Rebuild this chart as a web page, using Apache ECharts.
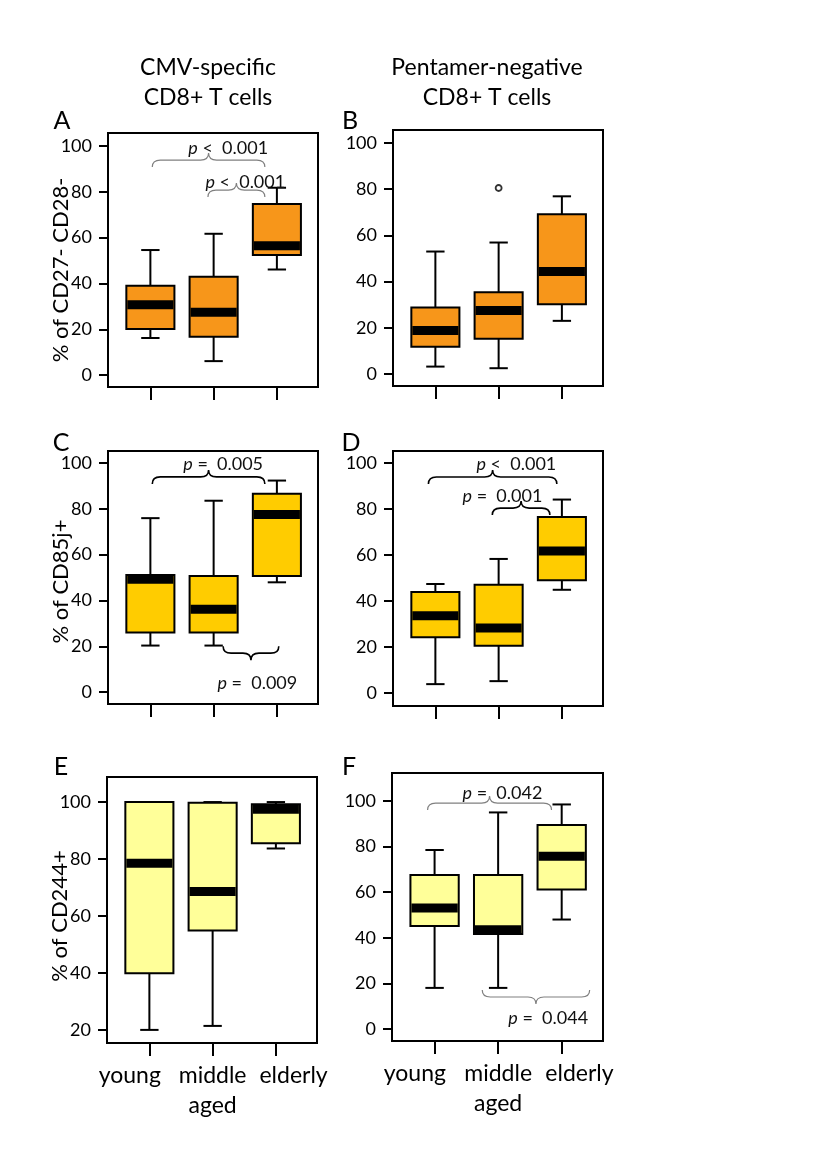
<!DOCTYPE html>
<html>
<head>
<meta charset="utf-8">
<script src="https://cdn.jsdelivr.net/npm/echarts@6/dist/echarts.min.js"></script>
<style>
html, body { margin: 0; padding: 0; background: #fff; }
#chart { width: 819px; height: 1168px; }
</style>
</head>
<body>
<div id="chart"></div>
<script>
const groups = ['young', 'middle\naged', 'elderly'];
const ticks100 = [0, 20, 40, 60, 80, 100];
const ticks20 = [20, 40, 60, 80, 100];

// [min, Q1, median, Q3, max] for young, middle aged, elderly
const boxA = [[16.2, 20.1, 30.7, 39.0, 54.6], [6.1, 16.7, 27.4, 42.9, 61.7], [46.1, 52.4, 56.5, 74.7, 81.8]];
const boxB = [[3.2, 11.8, 18.8, 28.8, 53.0], [2.5, 15.3, 27.5, 35.4, 56.9], [23.0, 30.2, 44.4, 69.1, 76.9]];
const boxC = [[20.3, 26.0, 49.2, 51.1, 75.9], [20.3, 26.0, 36.2, 50.7, 83.5], [47.9, 50.7, 77.5, 86.6, 92.3]];
const boxD = [[3.9, 24.3, 33.6, 43.9, 47.4], [5.2, 20.6, 28.3, 47.1, 58.3], [44.9, 49.0, 61.7, 76.5, 84.1]];
const boxE = [[20.0, 39.9, 78.5, 100, 100], [21.4, 54.9, 68.6, 99.8, 100], [83.7, 85.5, 97.5, 99.2, 100]];
const boxF = [[18.0, 45.2, 53.1, 67.5, 78.5], [18.0, 41.6, 43.5, 67.5, 95.0], [48.0, 61.2, 75.8, 89.5, 98.5]];
const outlierB = [[1, 80.5]];

// braces: from x, to x, y, tip (1 up / -1 down), text left x, text y
const bracesA = [[0.03, 1.81, 93.9, 1, 0.60, 99.1], [0.91, 1.81, 80.8, 1, 0.87, 84.3]];
const pTextA = ['<  0.001', '<  0.001'];
const bracesC = [[0.03, 1.81, 93.9, 1, 0.52, 99.6], [1.15, 2.03, 17.0, -1, 1.06, 3.9]];
const pTextC = ['=  0.005', '=  0.009'];
const bracesD = [[-0.11, 1.92, 93.9, 1, 0.65, 99.6], [0.90, 1.81, 80.4, 1, 0.43, 85.7]];
const pTextD = ['<  0.001', '=  0.001'];
const bracesF = [[-0.11, 1.84, 99.1, 1, 0.44, 103.5], [0.75, 2.44, 14.0, -1, 1.16, 4.8]];
const pTextF = ['=  0.042', '=  0.044'];

const FONT = 'Lato, Carlito, sans-serif';
const orange = '#F7961A', gold = '#FFCC00', pale = '#FFFF99';

const panels = [
  { box: boxA, fill: orange, grid: { left: 108, top: 133, width: 210, height: 254 }, y: [-5.2, 105.7], ticks: ticks100, name: '% of CD27- CD28-', pad: 20, braces: bracesA, texts: pTextA, bc: '#808080', bw: 1.2 },
  { box: boxB, fill: orange, grid: { left: 393, top: 130, width: 210, height: 256 }, y: [-5.2, 105.6], ticks: ticks100 },
  { box: boxC, fill: gold, grid: { left: 108, top: 451, width: 210, height: 253 }, y: [-5.2, 105.2], ticks: ticks100, name: '% of CD85j+', pad: 8, braces: bracesC, texts: pTextC, bc: '#000', bw: 1.6 },
  { box: boxD, fill: gold, grid: { left: 393, top: 451, width: 210, height: 255 }, y: [-5.6, 105.2], ticks: ticks100, braces: bracesD, texts: pTextD, bc: '#000', bw: 1.6 },
  { box: boxE, fill: pale, grid: { left: 107, top: 777, width: 210, height: 266 }, y: [15.4, 108.8], ticks: ticks20, name: '% of CD244+', pad: 12, labels: true },
  { box: boxF, fill: pale, grid: { left: 392, top: 773, width: 211, height: 268 }, y: [-5.3, 112.3], ticks: ticks100, braces: bracesF, texts: pTextF, bc: '#808080', bw: 1.2, labels: true }
];

function boxRenderer(fill) {
  return function (params, api) {
    const x = api.value(0);
    const pt = i => api.coord([x, api.value(i)]);
    const lo = pt(1), q1 = pt(2), md = pt(3), q3 = pt(4), hi = pt(5);
    const unit = api.size([1, 0])[0];
    const w = unit * 0.76, cap = unit * 0.29, cx = lo[0];
    const line = (x1, y1, x2, y2) => ({ type: 'line', shape: { x1, y1, x2, y2 }, style: { stroke: '#000', lineWidth: 2 } });
    return {
      type: 'group',
      children: [
        line(cx, hi[1], cx, q3[1]),
        line(cx, q1[1], cx, lo[1]),
        line(cx - cap / 2, hi[1], cx + cap / 2, hi[1]),
        line(cx - cap / 2, lo[1], cx + cap / 2, lo[1]),
        { type: 'rect', shape: { x: cx - w / 2, y: q3[1], width: w, height: q1[1] - q3[1] }, style: { fill: fill, stroke: '#000', lineWidth: 2 } },
        { type: 'rect', shape: { x: cx - w / 2 + 1, y: md[1] - 4.5, width: w - 2, height: 9 }, style: { fill: '#000' } }
      ]
    };
  };
}

function braceRenderer(texts, color, lw) {
  return function (params, api) {
    const a = api.coord([api.value(0), api.value(2)]);
    const b = api.coord([api.value(1), api.value(2)]);
    const t = api.coord([api.value(4), api.value(5)]);
    const d = api.value(3), h = 7, r = 8;
    const y = a[1], x1 = a[0], x2 = b[0], xm = (x1 + x2) / 2;
    const path = 'M' + x1 + ',' + (y + h * d) + ' Q' + x1 + ',' + y + ' ' + (x1 + r) + ',' + y +
      ' L' + (xm - r) + ',' + y + ' Q' + xm + ',' + y + ' ' + xm + ',' + (y - h * d) +
      ' Q' + xm + ',' + y + ' ' + (xm + r) + ',' + y + ' L' + (x2 - r) + ',' + y +
      ' Q' + x2 + ',' + y + ' ' + x2 + ',' + (y + h * d);
    return {
      type: 'group',
      children: [
        { type: 'path', shape: { pathData: path }, style: { fill: 'none', stroke: color, lineWidth: lw } },
        { type: 'text', x: t[0], y: t[1], style: {
          text: '{i|p} ' + texts[params.dataIndex], fill: '#111', fontSize: 18, fontFamily: FONT,
          align: 'left', verticalAlign: 'middle',
          rich: { i: { fontStyle: 'italic', fontSize: 18, fontFamily: FONT, fill: '#111' } }
        } }
      ]
    };
  };
}

const grid = [], xAxis = [], yAxis = [], series = [];
panels.forEach((p, k) => {
  grid.push(Object.assign({ show: true, borderColor: '#000', borderWidth: 2, backgroundColor: 'transparent' }, p.grid));
  xAxis.push({
    type: 'value', gridIndex: k, min: -0.67, max: 2.65,
    axisLine: { show: false, onZero: false }, splitLine: { show: false },
    axisTick: { customValues: [0, 1, 2], length: 13, lineStyle: { color: '#000', width: 2 } },
    axisLabel: {
      show: !!p.labels, customValues: [-0.31, 1, 2.28], margin: 18,
      formatter: v => groups[Math.min(2, Math.max(0, Math.round(v)))],
      color: '#000', fontSize: 23, lineHeight: 30, fontFamily: FONT
    }
  });
  yAxis.push({
    type: 'value', gridIndex: k, min: p.y[0], max: p.y[1],
    axisLine: { show: false, onZero: false }, splitLine: { show: false },
    axisTick: { customValues: p.ticks, length: 9, lineStyle: { color: '#000', width: 2 } },
    axisLabel: { customValues: p.ticks, margin: 16, color: '#000', fontSize: 18, fontFamily: FONT },
    name: p.name || '', nameLocation: 'middle', nameGap: 36, nameMoveOverlap: false,
    nameTextStyle: { color: '#000', fontSize: 22, fontFamily: FONT, padding: [0, p.pad || 0, 0, 0] }
  });
  series.push({
    type: 'custom', xAxisIndex: k, yAxisIndex: k,
    renderItem: boxRenderer(p.fill),
    data: p.box.map((v, i) => [i].concat(v))
  });
  if (p.braces) {
    series.push({
      type: 'custom', xAxisIndex: k, yAxisIndex: k, z: 5,
      renderItem: braceRenderer(p.texts, p.bc, p.bw),
      data: p.braces
    });
  }
});

series.push({
  type: 'scatter', xAxisIndex: 1, yAxisIndex: 1, data: outlierB, z: 6,
  symbol: 'circle', symbolSize: 6,
  itemStyle: { color: '#fff', borderColor: '#000', borderWidth: 1.8 }
});

const txt = (x, y, text, size, extra) => ({
  type: 'text', x: x, y: y,
  style: Object.assign({ text: text, fill: '#000', fontSize: size, fontFamily: FONT, align: 'center', verticalAlign: 'middle' }, extra || {})
});

const chart = echarts.init(document.getElementById('chart'), null, { renderer: 'canvas' });
chart.setOption({
  animation: false,
  backgroundColor: '#fff',
  grid: grid, xAxis: xAxis, yAxis: yAxis, series: series,
  graphic: [
    txt(208, 83, 'CMV-specific\nCD8+ T cells', 23, { lineHeight: 30 }),
    txt(487, 83, 'Pentamer-negative\nCD8+ T cells', 23, { lineHeight: 30 }),
    txt(62, 121, 'A', 25), txt(350, 121, 'B', 25),
    txt(61, 443, 'C', 25), txt(351, 443, 'D', 25),
    txt(61, 767, 'E', 25), txt(349, 767, 'F', 25)
  ]
});
</script>
</body>
</html>
